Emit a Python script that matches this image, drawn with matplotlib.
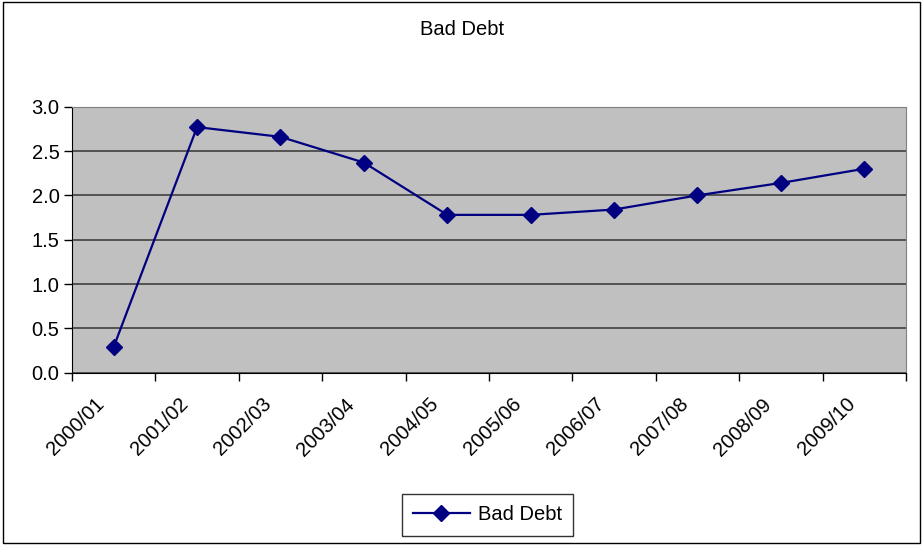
import matplotlib
matplotlib.use("Agg")
import matplotlib.pyplot as plt
import matplotlib.transforms as mtransforms
import numpy as np

plt.rcParams['font.family'] = ['Liberation Sans', 'DejaVu Sans']

years = ["2000/01", "2001/02", "2002/03", "2003/04", "2004/05",
         "2005/06", "2006/07", "2007/08", "2008/09", "2009/10"]
bad_debt = [0.29, 2.77, 2.66, 2.37, 1.78, 1.78, 1.84, 2.00, 2.14, 2.30]

FS = 14.5

fig = plt.figure(figsize=(9.24, 5.45), dpi=100)
ax = fig.add_axes([0.0779, 0.3162, 0.9026, 0.488])
ax.set_facecolor('#C0C0C0')

x = np.arange(len(years))
ax.plot(x, bad_debt, color='#000080', lw=1.6, marker='D', markersize=8.5,
        markerfacecolor='#000080', markeredgecolor='#000080', label='Bad Debt', zorder=3)

ax.set_xlim(-0.5, len(years) - 0.5)
ax.set_ylim(0, 3.0)
ax.set_yticks(np.arange(0, 3.01, 0.5))
ax.set_yticklabels([f"{v:.1f}" for v in np.arange(0, 3.01, 0.5)], fontsize=FS)
ax.yaxis.grid(True, color='#404040', lw=1.2, zorder=1)
ax.set_axisbelow(True)

# category boundaries as ticks, labels centred on categories
ax.set_xticks(np.arange(-0.5, len(years), 1.0))
ax.set_xticklabels([])
ax.set_xticks(x, minor=True)
labels = ax.set_xticklabels(years, minor=True, rotation=45, ha='right',
                            rotation_mode='anchor', fontsize=FS)
ax.tick_params(axis='x', which='minor', length=0, pad=10)
ax.tick_params(axis='x', which='major', length=6, width=1, color='black', direction='out')
ax.tick_params(axis='y', length=6, width=1, color='black', direction='out', pad=3)
shift = mtransforms.ScaledTranslation(-0.19, -0.08, fig.dpi_scale_trans)
for lab in labels:
    lab.set_transform(lab.get_transform() + shift)

ax.spines['left'].set_color('black')
ax.spines['bottom'].set_color('black')
ax.spines['top'].set_color('#808080')
ax.spines['right'].set_color('#808080')

fig.text(0.5, 0.945, "Bad Debt", ha='center', va='center', fontsize=FS)

leg = fig.legend(loc='center', bbox_to_anchor=(0.5276, 1 - 515 / 545), bbox_transform=fig.transFigure,
                 fontsize=FS, frameon=True, fancybox=False, edgecolor='black',
                 handlelength=2.8, handletextpad=0.4, borderpad=0.55, borderaxespad=0)
leg.get_frame().set_linewidth(1)

fig.patches.append(plt.Rectangle((0.003, 0.004), 0.993, 0.992, transform=fig.transFigure,
                                 fill=False, edgecolor='black', lw=1))

fig.savefig("out.png", dpi=100)
